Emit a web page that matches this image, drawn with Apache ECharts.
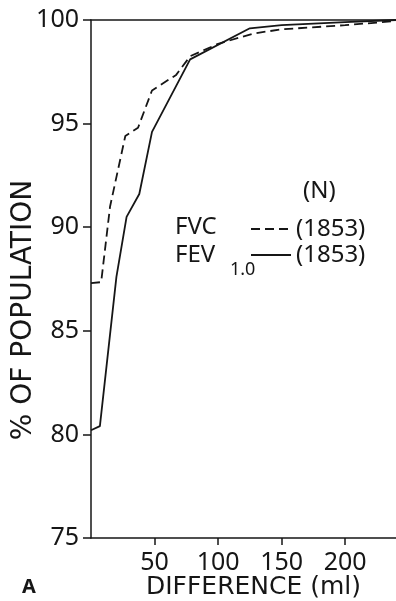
<!DOCTYPE html>
<html>
<head>
<meta charset="utf-8">
<script src="https://cdn.jsdelivr.net/npm/echarts@6/dist/echarts.min.js"></script>
<style>
  html, body { margin: 0; padding: 0; background: #fff; }
  #chart { width: 396px; height: 601px; }
</style>
</head>
<body>
<div id="chart"></div>
<script>
// values
const fvcData = [
  [0, 87.3], [8, 87.35], [15, 91.0], [27, 94.4], [37, 94.8], [48, 96.6],
  [67, 97.35], [78, 98.25], [100, 98.85], [128, 99.35], [150, 99.55],
  [200, 99.75], [240, 99.95]
];
const fevData = [
  [0, 80.2], [7, 80.4], [20, 87.6], [28, 90.5], [38, 91.6], [48, 94.6],
  [78, 98.1], [125, 99.6], [150, 99.75], [200, 99.9], [240, 100]
];
const seriesNames = ['FVC', 'FEV'];
const counts = [1853, 1853];
const xTicks = [50, 100, 150, 200];

const ink = '#161616';
const font = 'Noto Sans';
const wideFont = 'DejaVu Sans';

const chart = echarts.init(document.getElementById('chart'));

chart.setOption({
  animation: false,
  backgroundColor: '#fff',
  grid: { left: 91, right: 0, top: 20, bottom: 63, outerBoundsMode: 'none', containLabel: false },
  legend: {
    orient: 'vertical',
    left: 245,
    top: 212,
    itemWidth: 40,
    itemHeight: 24,
    itemGap: 2,
    data: seriesNames,
    itemStyle: { color: 'transparent', borderWidth: 0 },
    formatter: (name) => '(' + counts[seriesNames.indexOf(name)] + ')',
    textStyle: { color: ink, fontFamily: font, fontSize: 24, lineHeight: 24 }
  },
  xAxis: [{
    type: 'value',
    min: 0,
    max: 240,
    interval: 50,
    name: 'DIFFERENCE (ml)',
    nameLocation: 'middle',
    nameGap: 37,
    nameMoveOverlap: false,
    nameTextStyle: { color: ink, fontFamily: wideFont, fontSize: 25, padding: [0, 0, 0, 20] },
    axisLine: { lineStyle: { color: ink, width: 1.5 } },
    axisTick: { show: true, length: 7, customValues: xTicks, lineStyle: { color: ink, width: 1.5 } },
    axisLabel: { customValues: xTicks, color: ink, fontFamily: font, fontSize: 25, margin: 12 },
    splitLine: { show: false }
  }, {
    type: 'value',
    position: 'top',
    min: 0,
    max: 240,
    axisLine: { show: true, lineStyle: { color: ink, width: 1.5 } },
    axisTick: { show: false },
    axisLabel: { show: false },
    splitLine: { show: false }
  }],
  yAxis: {
    type: 'value',
    min: 75,
    max: 100,
    interval: 5,
    name: '% OF POPULATION',
    nameLocation: 'middle',
    nameGap: 53,
    nameRotate: 90,
    nameMoveOverlap: false,
    nameTextStyle: { color: ink, fontFamily: wideFont, fontSize: 28, padding: [0, 62, 0, 0] },
    axisLine: { show: true, lineStyle: { color: ink, width: 1.5 } },
    axisTick: { show: true, length: 8, lineStyle: { color: ink, width: 1.5 } },
    axisLabel: { color: ink, fontFamily: font, fontSize: 25, margin: 12 },
    splitLine: { show: false }
  },
  series: [{
    name: 'FVC',
    type: 'line',
    data: fvcData,
    symbol: 'none',
    lineStyle: { color: ink, width: 1.8, type: [9, 5] },
    itemStyle: { color: ink }
  }, {
    name: 'FEV',
    type: 'line',
    data: fevData,
    symbol: 'none',
    lineStyle: { color: ink, width: 1.8 },
    itemStyle: { color: ink }
  }],
  graphic: [
    { type: 'text', left: 303, top: 179, style: { text: '(N)', fill: ink, font: '24px "Noto Sans"' } },
    { type: 'text', left: 175, top: 215, style: { text: 'FVC', fill: ink, font: '24px "Noto Sans"' } },
    { type: 'text', left: 175, top: 243, style: { text: 'FEV', fill: ink, font: '24px "Noto Sans"' } },
    { type: 'text', left: 230, top: 261, style: { text: '1.0', fill: ink, font: '18px "Noto Sans"' } },
    { type: 'text', left: 22, top: 577, style: { text: 'A', fill: ink, font: 'bold 20px "Noto Sans"' } }
  ]
});
</script>
</body>
</html>
